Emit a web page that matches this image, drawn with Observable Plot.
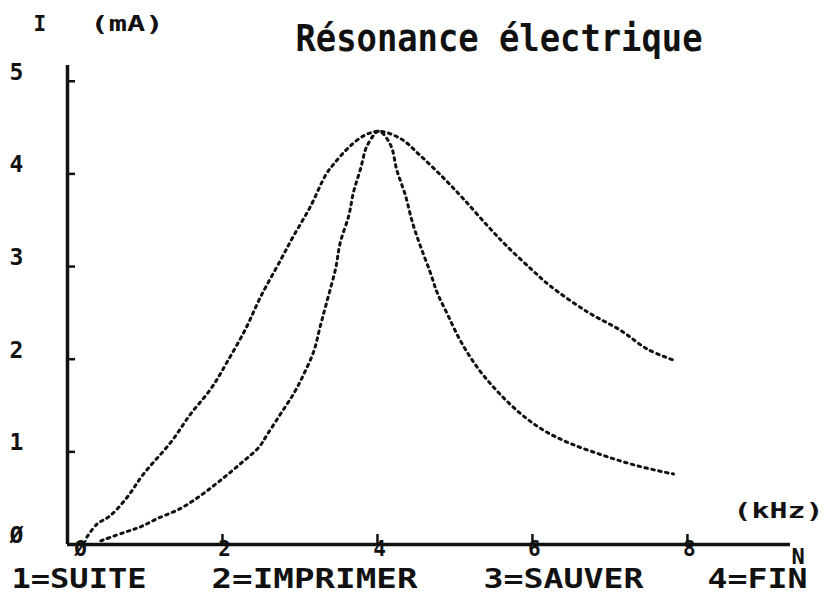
<!DOCTYPE html>
<html>
<head>
<meta charset="utf-8">
<script src="https://cdn.jsdelivr.net/npm/d3@7"></script>
<script src="https://cdn.jsdelivr.net/npm/@observablehq/plot@0.6"></script>
<style>
  html, body { margin: 0; padding: 0; background: #fff; }
  #chart svg { display: block; }
</style>
</head>
<body>
<div id="chart"></div>
<script>
// ---- Data ----
const titleText = "Résonance électrique";
const yUnitLabel = ["I", "(mA)"];
const xUnitLabel = "(kHz)";
const xVarLabel = "N";
const menuItems = ["1=SUITE", "2=IMPRIMER", "3=SAUVER", "4=FIN"];

const yTicks = [0, 1, 2, 3, 4, 5];
const xTicks = [0, 2, 4, 6, 8];

// Curve A: wide resonance (low Q)
const wideFreq = [0.25,0.38,0.55,0.77,0.98,1.33,1.59,1.85,2.06,2.30,2.49,2.75,2.91,3.13,3.34,3.44,3.61,3.82,4.02,4.30,4.55,4.86,5.11,5.42,5.67,6.00,6.23,6.71,7.14,7.48,7.82];
const wideCurrent = [0.08,0.22,0.31,0.51,0.76,1.10,1.41,1.68,1.97,2.33,2.67,3.07,3.32,3.64,4.00,4.11,4.27,4.41,4.46,4.38,4.20,3.95,3.73,3.44,3.22,2.96,2.79,2.51,2.31,2.11,1.99];

// Curve B: narrow resonance (high Q)
const narrowFreq = [0.43,0.73,0.94,1.16,1.46,1.72,1.97,2.23,2.47,2.58,2.75,2.92,3.05,3.18,3.26,3.34,3.46,3.52,3.63,3.69,3.78,3.87,4.02,4.17,4.25,4.36,4.45,4.55,4.68,4.77,4.90,5.07,5.29,5.54,5.85,6.15,6.49,6.92,7.35,7.82];
const narrowCurrent = [0.04,0.13,0.19,0.28,0.39,0.53,0.69,0.87,1.05,1.19,1.41,1.63,1.84,2.09,2.35,2.60,2.98,3.26,3.55,3.80,4.05,4.31,4.46,4.31,4.04,3.77,3.48,3.23,2.94,2.72,2.49,2.20,1.91,1.66,1.41,1.23,1.09,0.96,0.85,0.76];

// ---- Build tables ----
const wide = wideFreq.map((f, i) => ({f, I: wideCurrent[i]}));
const narrow = narrowFreq.map((f, i) => ({f, I: narrowCurrent[i]}));

const FONT = "'DejaVu Sans Mono', 'Liberation Mono', monospace";
const W = 827, H = 592;
const mL = 67, mR = 37, mT = 65, mB = 48;

const ink = "#111";
const dotted = {stroke: ink, strokeWidth: 3, strokeDasharray: "2.5,4.5", curve: "catmull-rom"};
const bold = {fontWeight: "bold", fill: ink};

const menuDx = [-56, 144, 416, 640];
const menuLen = [135, 206, 160, 100];
const zeroGlyph = d => d === 0 ? "Ø" : String(d);

const chart = Plot.plot({
  width: W,
  height: H,
  marginLeft: mL,
  marginRight: mR,
  marginTop: mT,
  marginBottom: mB,
  style: {fontFamily: FONT, background: "#fff", color: ink},
  x: {domain: [0, 9.33], axis: null},
  y: {domain: [0, 5.17], axis: null},
  marks: [
    // axis lines
    Plot.ruleX([0], {stroke: ink, strokeWidth: 3.5}),
    Plot.ruleY([0], {stroke: ink, strokeWidth: 3.5}),
    // inward ticks
    Plot.tickY(yTicks.filter(d => d > 0), {y: d => d, insetRight: W - mL - mR - 8, stroke: ink, strokeWidth: 2.5}),
    Plot.tickX(xTicks.filter(d => d > 0), {x: d => d, insetTop: H - mT - mB - 10, stroke: ink, strokeWidth: 2.5}),
    // tick labels
    Plot.text(yTicks, {y: d => d, text: zeroGlyph, frameAnchor: "left", dx: -51, dy: -9, textAnchor: "middle",
      fontSize: 23, ...bold}),
    Plot.text(xTicks.filter(d => d > 0), {x: d => d, text: zeroGlyph, frameAnchor: "bottom", dx: 2, dy: 11,
      fontSize: 21, ...bold}),
    Plot.text(xTicks.filter(d => d === 0), {x: d => d, text: zeroGlyph, frameAnchor: "bottom", dx: 13, dy: 11,
      fontSize: 21, ...bold}),
    // curves
    Plot.line(wide, {x: "f", y: "I", ...dotted}),
    Plot.line(narrow, {x: "f", y: "I", ...dotted}),
    // title
    Plot.text([titleText], {frameAnchor: "top-left", dx: 228, dy: -15, textAnchor: "start", lineAnchor: "bottom",
      fontSize: 38, ...bold, className: "t-title"}),
    // axis unit labels
    Plot.text([yUnitLabel[0]], {frameAnchor: "top-left", dx: -34, dy: -35, textAnchor: "start", lineAnchor: "bottom",
      fontSize: 21, ...bold}),
    Plot.text([yUnitLabel[1]], {frameAnchor: "top-left", dx: 23, dy: -35, textAnchor: "start", lineAnchor: "bottom",
      fontSize: 21, ...bold, className: "t-ma"}),
    Plot.text([xUnitLabel], {frameAnchor: "bottom-right", dx: -57, dy: -27, textAnchor: "start", lineAnchor: "bottom",
      fontSize: 22, ...bold, className: "t-khz"}),
    Plot.text([xVarLabel], {frameAnchor: "bottom-right", dx: 1, dy: 19, textAnchor: "start", lineAnchor: "bottom",
      fontSize: 22, ...bold}),
    // menu line
    ...menuItems.map((m, i) => Plot.text([m], {frameAnchor: "bottom-left", dx: menuDx[i], dy: 43, textAnchor: "start",
      lineAnchor: "bottom", fontSize: 26, ...bold, className: "t-menu" + i}))
  ]
});

document.getElementById("chart").appendChild(chart);

// stretch pixel-style text to the widths seen in the reference
const svg = d3.select(chart);
const stretch = (cls, len) => svg.selectAll("." + cls + " text")
  .attr("textLength", len).attr("lengthAdjust", "spacingAndGlyphs");
stretch("t-title", 407);
stretch("t-ma", 73);
stretch("t-khz", 90);
menuItems.forEach((m, i) => stretch("t-menu" + i, menuLen[i]));
</script>
</body>
</html>
